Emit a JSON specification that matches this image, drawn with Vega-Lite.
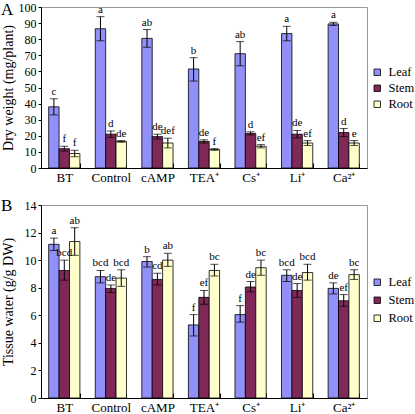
{
  "$schema": "https://vega.github.io/schema/vega-lite/v6.json",
  "padding": {"left": 0, "top": 0, "right": 0, "bottom": 0},
  "background": "white",
  "spacing": 11,
  "config": {
    "font": "Liberation Serif",
    "view": {"stroke": "#999999", "strokeWidth": 1},
    "axis": {"labelFont": "Liberation Serif", "labelFontSize": 12, "labelColor": "black", "titleFont": "Liberation Serif", "titleFontSize": 14, "titleFontWeight": "normal", "titleColor": "black", "domainColor": "black", "tickColor": "black", "grid": false},
    "legend": {"labelFont": "Liberation Serif", "labelFontSize": 12.5, "labelColor": "black", "padding": 0},
    "title": {"font": "Liberation Serif", "fontSize": 17, "fontWeight": "normal", "color": "black"}
  },
  "datasets": {
    "dry": [
      {"group": "BT", "part": "Leaf", "value": 38, "lo": 33, "hi": 43, "label": "c"},
      {"group": "BT", "part": "Stem", "value": 12, "lo": 10.5, "hi": 13.5, "label": "f"},
      {"group": "BT", "part": "Root", "value": 9, "lo": 7, "hi": 11, "label": "f"},
      {"group": "Control", "part": "Leaf", "value": 86.5, "lo": 79, "hi": 94, "label": "a"},
      {"group": "Control", "part": "Stem", "value": 21, "lo": 19, "hi": 23, "label": "d"},
      {"group": "Control", "part": "Root", "value": 16.5, "lo": 16, "hi": 17, "label": "de"},
      {"group": "cAMP", "part": "Leaf", "value": 80.5, "lo": 75, "hi": 86, "label": "ab"},
      {"group": "cAMP", "part": "Stem", "value": 19.5, "lo": 18, "hi": 21, "label": "de"},
      {"group": "cAMP", "part": "Root", "value": 15.5, "lo": 12.5, "hi": 18.5, "label": "def"},
      {"group": "TEA⁺", "part": "Leaf", "value": 61.5, "lo": 54, "hi": 68.5, "label": "b"},
      {"group": "TEA⁺", "part": "Stem", "value": 16.5, "lo": 15.5, "hi": 17.5, "label": "de"},
      {"group": "TEA⁺", "part": "Root", "value": 11.5, "lo": 11, "hi": 12, "label": "f"},
      {"group": "Cs⁺", "part": "Leaf", "value": 71, "lo": 63.5, "hi": 78.5, "label": "ab"},
      {"group": "Cs⁺", "part": "Stem", "value": 21.5, "lo": 20.5, "hi": 22.5, "label": "d"},
      {"group": "Cs⁺", "part": "Root", "value": 13.5, "lo": 12.5, "hi": 14.5, "label": "ef"},
      {"group": "Li⁺", "part": "Leaf", "value": 83.5, "lo": 79, "hi": 88, "label": "a"},
      {"group": "Li⁺", "part": "Stem", "value": 21, "lo": 18.7, "hi": 23.3, "label": "de"},
      {"group": "Li⁺", "part": "Root", "value": 15.5, "lo": 14, "hi": 17, "label": "ef"},
      {"group": "Ca²⁺", "part": "Leaf", "value": 89.5, "lo": 88.5, "hi": 90.5, "label": "a"},
      {"group": "Ca²⁺", "part": "Stem", "value": 22, "lo": 19.5, "hi": 24.5, "label": "d"},
      {"group": "Ca²⁺", "part": "Root", "value": 15.5, "lo": 14, "hi": 17, "label": "e"}
    ],
    "water": [
      {"group": "BT", "part": "Leaf", "value": 11.15, "lo": 10.7, "hi": 11.6, "label": "a"},
      {"group": "BT", "part": "Stem", "value": 9.25, "lo": 8.55, "hi": 10.0, "label": "bcd"},
      {"group": "BT", "part": "Root", "value": 11.35, "lo": 10.35, "hi": 12.35, "label": "ab"},
      {"group": "Control", "part": "Leaf", "value": 8.8, "lo": 8.35, "hi": 9.25, "label": "bcd"},
      {"group": "Control", "part": "Stem", "value": 7.95, "lo": 7.65, "hi": 8.2, "label": "de"},
      {"group": "Control", "part": "Root", "value": 8.7, "lo": 8.1, "hi": 9.3, "label": "bcd"},
      {"group": "cAMP", "part": "Leaf", "value": 9.9, "lo": 9.5, "hi": 10.25, "label": "b"},
      {"group": "cAMP", "part": "Stem", "value": 8.6, "lo": 8.2, "hi": 9.05, "label": "cd"},
      {"group": "cAMP", "part": "Root", "value": 10.0, "lo": 9.55, "hi": 10.5, "label": "ab"},
      {"group": "TEA⁺", "part": "Leaf", "value": 5.3, "lo": 4.5, "hi": 6.05, "label": "f"},
      {"group": "TEA⁺", "part": "Stem", "value": 7.3, "lo": 6.8, "hi": 7.8, "label": "ef"},
      {"group": "TEA⁺", "part": "Root", "value": 9.25, "lo": 8.85, "hi": 9.7, "label": "bc"},
      {"group": "Cs⁺", "part": "Leaf", "value": 6.05, "lo": 5.5, "hi": 6.7, "label": "f"},
      {"group": "Cs⁺", "part": "Stem", "value": 8.05, "lo": 7.7, "hi": 8.45, "label": "de"},
      {"group": "Cs⁺", "part": "Root", "value": 9.45, "lo": 8.9, "hi": 10.0, "label": "bc"},
      {"group": "Li⁺", "part": "Leaf", "value": 8.9, "lo": 8.45, "hi": 9.3, "label": "bcd"},
      {"group": "Li⁺", "part": "Stem", "value": 7.8, "lo": 7.3, "hi": 8.3, "label": "de"},
      {"group": "Li⁺", "part": "Root", "value": 9.1, "lo": 8.55, "hi": 9.7, "label": "bcd"},
      {"group": "Ca²⁺", "part": "Leaf", "value": 7.95, "lo": 7.55, "hi": 8.35, "label": "de"},
      {"group": "Ca²⁺", "part": "Stem", "value": 7.05, "lo": 6.65, "hi": 7.5, "label": "ef"},
      {"group": "Ca²⁺", "part": "Root", "value": 8.95, "lo": 8.6, "hi": 9.3, "label": "bc"}
    ]
  },
  "resolve": {"legend": {"color": "independent"}, "scale": {"y": "independent", "color": "independent"}},
  "vconcat": [
    {
      "width": 326,
      "height": 161,
      "title": {"text": "A", "anchor": "start", "frame": "group", "dx": -40, "offset": -18},
      "data": {"name": "dry"},
      "encoding": {
        "x": {"field": "group", "type": "nominal", "sort": ["BT", "Control", "cAMP", "TEA⁺", "Cs⁺", "Li⁺", "Ca²⁺"], "scale": {"paddingInner": 0.33, "paddingOuter": 0.165}, "axis": {"title": null, "labelAngle": 0, "labelPadding": 8, "labelFontSize": 13, "tickBand": "extent", "tickSize": -5}},
        "xOffset": {"field": "part", "type": "nominal", "sort": ["Leaf", "Stem", "Root"], "scale": {"paddingInner": 0, "paddingOuter": 0}},
        "y": {"field": "value", "type": "quantitative", "scale": {"domain": [0, 100]}, "axis": {"title": "Dry weight (mg/plant)", "values": [0, 10, 20, 30, 40, 50, 60, 70, 80, 90, 100], "tickSize": 3, "labelPadding": 2, "titlePadding": 3, "labelOverlap": false}}
      },
      "layer": [
        {
          "mark": {"type": "bar", "stroke": "black", "strokeWidth": 0.8},
          "encoding": {
            "color": {"field": "part", "type": "nominal", "sort": ["Leaf", "Stem", "Root"], "scale": {"domain": ["Leaf", "Stem", "Root"], "range": ["#9090f8", "#802858", "#ffffcc"]}, "legend": {"title": null, "orient": "none", "legendX": 330, "legendY": 59, "symbolType": "square", "symbolSize": 42, "symbolStrokeColor": "black", "symbolStrokeWidth": 0.8, "rowPadding": 3, "labelOffset": 5}}
          }
        },
        {
          "mark": {"type": "rule", "color": "black", "strokeWidth": 1},
          "encoding": {"y": {"field": "lo", "type": "quantitative"}, "y2": {"field": "hi"}}
        },
        {
          "mark": {"type": "tick", "color": "black", "thickness": 1, "size": 8},
          "encoding": {"y": {"field": "lo", "type": "quantitative"}}
        },
        {
          "mark": {"type": "tick", "color": "black", "thickness": 1, "size": 8},
          "encoding": {"y": {"field": "hi", "type": "quantitative"}}
        },
        {
          "mark": {"type": "text", "baseline": "bottom", "dy": -2, "fontSize": 11, "font": "Liberation Serif", "color": "black"},
          "encoding": {"y": {"field": "hi", "type": "quantitative"}, "text": {"field": "label"}}
        }
      ]
    },
    {
      "width": 326,
      "height": 193,
      "title": {"text": "B", "anchor": "start", "frame": "group", "dx": -40, "offset": -16},
      "data": {"name": "water"},
      "encoding": {
        "x": {"field": "group", "type": "nominal", "sort": ["BT", "Control", "cAMP", "TEA⁺", "Cs⁺", "Li⁺", "Ca²⁺"], "scale": {"paddingInner": 0.33, "paddingOuter": 0.165}, "axis": {"title": null, "labelAngle": 0, "labelPadding": 8, "labelFontSize": 13, "tickBand": "extent", "tickSize": -5}},
        "xOffset": {"field": "part", "type": "nominal", "sort": ["Leaf", "Stem", "Root"], "scale": {"paddingInner": 0, "paddingOuter": 0}},
        "y": {"field": "value", "type": "quantitative", "scale": {"domain": [0, 14]}, "axis": {"title": "Tissue water (g/g DW)", "values": [0, 2, 4, 6, 8, 10, 12, 14], "tickSize": 3, "labelPadding": 2, "titlePadding": 9, "labelOverlap": false}}
      },
      "layer": [
        {
          "mark": {"type": "bar", "stroke": "black", "strokeWidth": 0.8},
          "encoding": {
            "color": {"field": "part", "type": "nominal", "sort": ["Leaf", "Stem", "Root"], "scale": {"domain": ["Leaf", "Stem", "Root"], "range": ["#9090f8", "#802858", "#ffffcc"]}, "legend": {"title": null, "orient": "none", "legendX": 330, "legendY": 71, "symbolType": "square", "symbolSize": 42, "symbolStrokeColor": "black", "symbolStrokeWidth": 0.8, "rowPadding": 5, "labelOffset": 5}}
          }
        },
        {
          "mark": {"type": "rule", "color": "black", "strokeWidth": 1},
          "encoding": {"y": {"field": "lo", "type": "quantitative"}, "y2": {"field": "hi"}}
        },
        {
          "mark": {"type": "tick", "color": "black", "thickness": 1, "size": 8},
          "encoding": {"y": {"field": "lo", "type": "quantitative"}}
        },
        {
          "mark": {"type": "tick", "color": "black", "thickness": 1, "size": 8},
          "encoding": {"y": {"field": "hi", "type": "quantitative"}}
        },
        {
          "mark": {"type": "text", "baseline": "bottom", "dy": -2, "fontSize": 11, "font": "Liberation Serif", "color": "black"},
          "encoding": {"y": {"field": "hi", "type": "quantitative"}, "text": {"field": "label"}}
        }
      ]
    }
  ]
}
